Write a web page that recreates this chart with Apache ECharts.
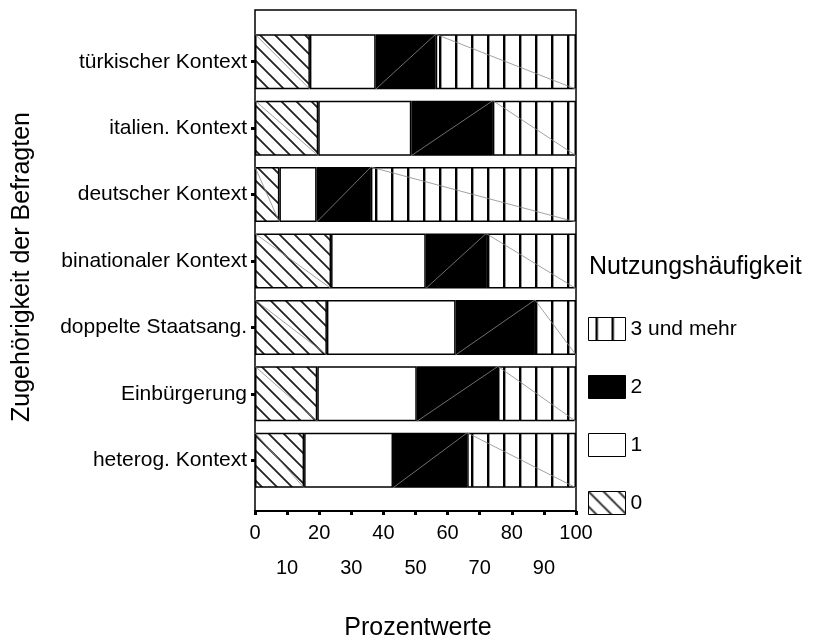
<!DOCTYPE html>
<html>
<head>
<meta charset="utf-8">
<script src="https://cdn.jsdelivr.net/npm/echarts@6/dist/echarts.min.js"></script>
<style>html,body{margin:0;padding:0;background:#fff}#c{width:818px;height:642px}</style>
</head>
<body>
<div id="c"></div>
<script>
const categories = ['türkischer Kontext','italien. Kontext','deutscher Kontext','binationaler Kontext','doppelte Staatsang.','Einbürgerung','heterog. Kontext'];
const seriesNames = ['0','1','2','3 und mehr'];
const v0 = [17.1, 19.7, 7.6, 23.7, 22.4, 19.4, 15.3];
const v1 = [20.5, 29.0, 11.6, 29.5, 40.1, 31.0, 27.7];
const v2 = [18.7, 25.4, 16.9, 18.8, 24.7, 25.3, 23.1];
const v3 = [43.7, 25.9, 63.9, 28.0, 12.8, 24.3, 33.9];
const xTicks = [0,10,20,30,40,50,60,70,80,90,100];
const legendOrder = ['3 und mehr','2','1','0'];

const FONT = 'Liberation Sans, Arial, sans-serif';

function hatchPattern(){
  const c = document.createElement('canvas'); c.width = 15; c.height = 15;
  const g = c.getContext('2d');
  g.fillStyle = '#fff'; g.fillRect(0,0,15,15);
  g.strokeStyle = '#222'; g.lineWidth = 1.8; g.beginPath();
  for (const o of [-15,0,15]) { g.moveTo(o-1,-1); g.lineTo(o+16,16); }
  g.stroke();
  return {image: c, repeat: 'repeat'};
}
function verticalPattern(){
  const c = document.createElement('canvas'); c.width = 16; c.height = 16;
  const g = c.getContext('2d');
  g.fillStyle = '#fff'; g.fillRect(0,0,16,16);
  g.fillStyle = '#000'; g.fillRect(7,0,2,16);
  g.fillStyle = '#999'; g.fillRect(9,0,1,16);
  return {image: c, repeat: 'repeat'};
}
const fills = [hatchPattern(), '#fff', '#000', verticalPattern()];
const values = [v0, v1, v2, v3];

// grey diagonals: [start, catIndex, end, dir]  dir 1 = TL->BR, 0 = BL->TR
const diagDirs = [1, null, 0, 1];
const diagData = [];
categories.forEach((c, i) => {
  let acc = 0;
  values.forEach((arr, k) => {
    const s = acc; acc += arr[i];
    if (diagDirs[k] !== null) diagData.push([s, i, acc, diagDirs[k]]);
  });
});

const chart = echarts.init(document.getElementById('c'), null, {renderer: 'canvas'});
const barSeries = seriesNames.map((n, k) => ({
  name: n, type: 'bar', stack: 'all', xAxisIndex: 0, yAxisIndex: 0,
  barWidth: 55, data: values[k], silent: true,
  itemStyle: {color: fills[k], borderColor: '#000', borderWidth: 1.5},
  emphasis: {disabled: true}
}));

chart.setOption({
  animation: false,
  backgroundColor: '#fff',
  textStyle: {fontFamily: FONT, color: '#000'},
  grid: [
    {left: 255, right: 242, top: 28.5, bottom: 148.5, containLabel: false},
    {left: 255, right: 242, top: 10, bottom: 131, containLabel: false, show: true, borderColor: '#000', borderWidth: 1.5, backgroundColor: 'transparent'}
  ],
  xAxis: [
    {gridIndex: 0, type: 'value', min: 0, max: 100, show: false},
    {gridIndex: 1, type: 'value', min: 0, max: 100, interval: 10,
     axisLine: {show: true, lineStyle: {color: '#000', width: 2}},
     axisTick: {show: true, length: 4, lineStyle: {color: '#000', width: 3}},
     splitLine: {show: false},
     axisLabel: {show: true, interval: 0, showMinLabel: true, showMaxLabel: true, color: '#000', fontSize: 20, fontFamily: FONT, lineHeight: 35, margin: 5,
       formatter: v => (xTicks.indexOf(v) % 2 === 0 ? String(v) : '\n' + v)}}
  ],
  yAxis: [
    {gridIndex: 0, type: 'category', data: categories, inverse: true,
     axisLine: {show: false},
     axisTick: {show: true, alignWithLabel: true, length: 4, lineStyle: {color: '#000', width: 3}},
     splitLine: {show: false},
     axisLabel: {color: '#000', fontSize: 21, fontFamily: FONT, margin: 8}},
    {gridIndex: 1, type: 'value', show: false, min: 0, max: 1}
  ],
  legend: {
    data: legendOrder, orient: 'vertical', left: 588, top: 317, padding: 0,
    itemWidth: 37, itemHeight: 23, itemGap: 34, icon: 'rect', selectedMode: false,
    textStyle: {fontSize: 21, fontFamily: FONT, color: '#000'},
    itemStyle: {borderColor: '#000', borderWidth: 1}
  },
  graphic: [
    {type: 'text', x: 22, y: 267, rotation: Math.PI/2,
     style: {text: 'Zugehörigkeit der Befragten', fontSize: 25, fontFamily: FONT, fill: '#000', align: 'center', verticalAlign: 'middle'}},
    {type: 'text', x: 418, y: 628,
     style: {text: 'Prozentwerte', fontSize: 25, fontFamily: FONT, fill: '#000', align: 'center', verticalAlign: 'middle'}},
    {type: 'text', x: 589, y: 267,
     style: {text: 'Nutzungshäufigkeit', fontSize: 25, fontFamily: FONT, fill: '#000', align: 'left', verticalAlign: 'middle'}}
  ],
  series: barSeries.concat([{
    type: 'custom', xAxisIndex: 0, yAxisIndex: 0, silent: true, z: 5,
    encode: {x: [0, 2], y: 1},
    data: diagData,
    renderItem: function(params, api){
      const s = api.value(0), cat = api.value(1), e = api.value(2), dir = api.value(3);
      const p0 = api.coord([s, cat]), p1 = api.coord([e, cat]);
      const h = 27.5;
      const y1 = dir === 1 ? p0[1] - h : p0[1] + h;
      const y2 = dir === 1 ? p0[1] + h : p0[1] - h;
      return {type: 'line', shape: {x1: p0[0], y1: y1, x2: p1[0], y2: y2},
              style: {stroke: '#8a8a8a', lineWidth: 0.8}};
    }
  }])
});
</script>
</body>
</html>
